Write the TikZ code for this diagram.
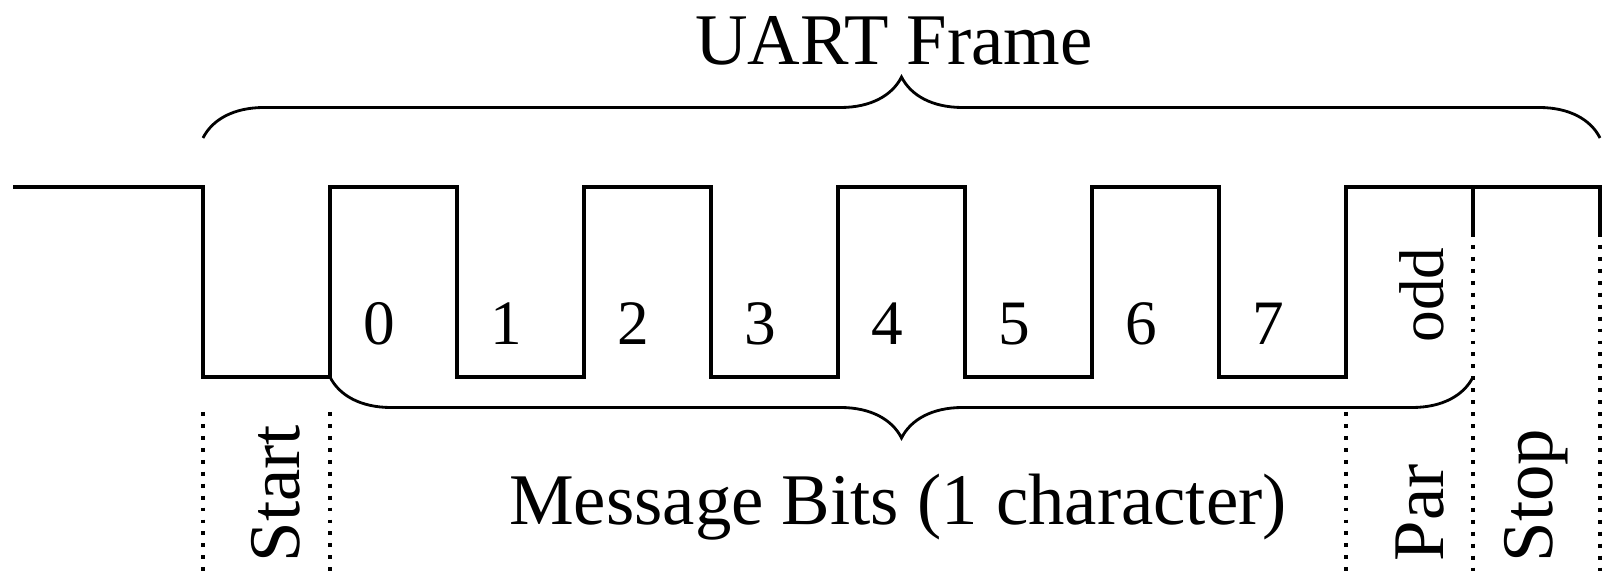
\documentclass[tikz,border=0pt]{standalone}
\usepackage{fontspec}
\setmainfont{Liberation Serif}
\usetikzlibrary{decorations.pathreplacing}

\begin{document}
\begin{tikzpicture}[
  wave/.style={line width=0.9pt},
  guide/.style={line width=1.2pt,dash pattern=on 1.1pt off 2.3pt},
  brc/.style={line width=0.8pt,decorate,decoration={brace,amplitude=0.61cm}},
  lbl/.style={inner sep=0pt,font=\fontsize{20.7}{24}\selectfont},
  bitlbl/.style={inner sep=0pt,font=\fontsize{18}{21}\selectfont,anchor=base},
  vlbl/.style={lbl,rotate=90,anchor=base west}]
\useasboundingbox (0,0) rectangle (16.06,5.72);
% bit edges, one bit = 1.27
\foreach \i in {0,...,11}
  \coordinate (e\i) at ({2.03+1.27*\i},0);
\coordinate (hi) at (0,3.85);
\coordinate (lo) at (0,1.95);
\coordinate (idle) at (0.13,3.85);
\coordinate (gt) at (0,1.60);
\coordinate (gs) at (0,3.39);
\coordinate (bt) at (0,4.34);

\draw[wave] (idle) -| (e0|-lo) -| (e1|-hi) -| (e2|-lo) -| (e3|-hi)
  -| (e4|-lo) -| (e5|-hi) -| (e6|-lo) -| (e7|-hi) -| (e8|-lo)
  -| (e9|-hi) -- (e11|-hi) -- (e11|-gs);
\draw[wave] (e10|-hi) -- (e10|-gs);

\foreach \i in {0,1,9}
  \draw[guide] (e\i|-gt) -- (e\i);
\foreach \i in {10,11}
  \draw[guide] (e\i|-gs) -- (e\i);

\draw[brc] (e0|-bt) -- (e11|-bt);
\draw[brc] (e10|-lo) -- (e1|-lo);

\node[lbl,anchor=base] (frame) at (8.94,5.07) {UART Frame};
\node[lbl,anchor=base] (msg) at (8.98,0.47) {Message Bits (1 character)};
\foreach \d in {0,...,7}
  \node[bitlbl] (b\d) at ({3.79+1.27*\d},2.27) {\d};
\node[bitlbl,rotate=90,anchor=base west] (odd) at (14.43,2.29) {odd};
\node[vlbl] (start) at (2.99,0.09) {Start};
\node[vlbl] (par) at (14.43,0.10) {Par};
\node[vlbl] (stop) at (15.52,0.09) {Stop};
\end{tikzpicture}
\end{document}
